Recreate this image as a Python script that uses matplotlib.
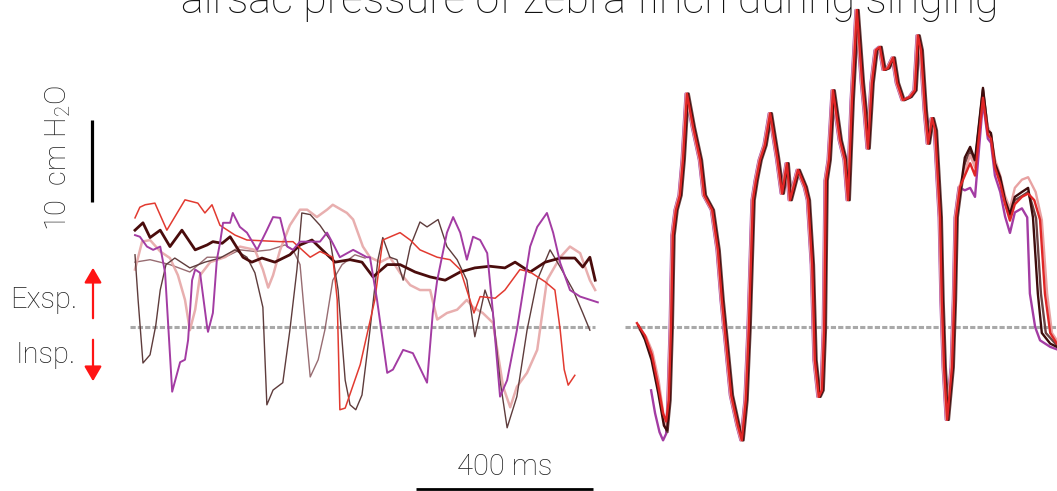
import matplotlib
matplotlib.use('Agg')
import matplotlib.pyplot as plt
from matplotlib.patches import FancyArrowPatch

plt.rcParams['font.family'] = ['Roboto', 'Open Sans', 'DejaVu Sans']
plt.rcParams['mathtext.fontset'] = 'custom'
plt.rcParams['mathtext.rm'] = 'Roboto:weight=light'
plt.rcParams['mathtext.default'] = 'rm'
plt.rcParams['lines.solid_joinstyle'] = 'round'

# ---- left panel: time (ms), pressure (cm H2O) ----
red_t = [0, 11, 23, 45, 72, 113, 142, 158, 174, 192, 226, 253, 328, 357, 396, 418, 447, 457, 463, 475,
         509, 542, 560, 599, 622, 644, 683, 712, 735, 757, 766, 780, 814, 836, 870, 893, 927, 949, 961,
         970, 979, 994]
red_p = [13.3, 14.6, 14.9, 15.1, 11.8, 15.5, 15.1, 13.9, 14.9, 12.4, 11.2, 10.6, 10.4, 10.4, 8.5, 9.2,
         8.5, 3.3, -10.1, -9.9, -4.6, 3.3, 10.6, 11.5, 10.6, 9.4, 8.5, 8.2, 7.0, 3.3, 1.7, 3.7, 3.5, 4.5,
         7.0, 6.7, 5.5, 4.5, -0.4, -5.2, -7.1, -5.9]

purple_t = [0, 11, 27, 41, 57, 68, 84, 102, 113, 120, 129, 136, 147, 163, 165, 176, 185, 192, 199, 215,
            221, 237, 253, 276, 298, 312, 328, 344, 357, 373, 418, 434, 447, 463, 493, 524, 531, 547, 570,
            583, 606, 628, 660, 673, 683, 705, 719, 735, 750, 764, 780, 796, 809, 825, 841, 863, 893, 909,
            931, 945, 961, 983, 1006, 1046]
purple_p = [11.2, 11.0, 9.8, 9.4, 9.8, 6.6, -7.9, -4.3, -4.0, -1.6, 5.7, 7.0, 6.6, 0.0, -0.6, 1.7, 8.2,
            10.2, 12.7, 12.7, 13.9, 12.2, 11.5, 9.4, 11.8, 13.4, 13.3, 9.8, 9.4, 10.4, 10.4, 11.5, 10.2,
            8.5, 9.4, 8.5, 8.5, 3.3, -5.6, -5.2, -2.8, -3.2, -6.8, 1.7, 5.7, 11.5, 13.4, 11.5, 8.2, 11.0,
            10.6, 9.0, 1.7, -8.5, -6.5, -0.4, 9.8, 12.2, 13.9, 11.5, 7.8, 4.5, 3.7, 3.0]

brown_t = [0, 18, 34, 57, 79, 106, 136, 163, 176, 197, 215, 244, 264, 287, 316, 350, 373, 400, 423, 452,
           486, 513, 538, 570, 599, 633, 667, 701, 735, 768, 802, 836, 859, 893, 927, 961, 994, 1012,
           1028, 1040]
brown_p = [11.8, 12.7, 10.9, 11.8, 9.8, 11.8, 9.4, 10.0, 10.4, 10.2, 11.0, 8.5, 7.9, 8.4, 7.9, 8.8, 10.0,
           10.6, 9.4, 7.9, 8.2, 7.9, 6.1, 7.6, 7.6, 6.7, 6.1, 5.7, 6.7, 7.2, 7.4, 7.2, 7.9, 6.7, 7.9, 8.4,
           8.4, 7.3, 8.5, 5.7]

pink_t = [0, 16, 34, 57, 79, 97, 113, 124, 136, 147, 170, 203, 237, 271, 289, 301, 312, 328, 350, 373,
          389, 411, 434, 447, 479, 493, 515, 531, 554, 576, 599, 622, 644, 667, 683, 705, 728, 750, 764,
          786, 809, 832, 848, 863, 886, 909, 931, 961, 983, 1006, 1028, 1040]
pink_p = [7.0, 10.4, 10.6, 9.2, 8.4, 6.3, 3.3, -0.4, 2.1, 6.3, 7.9, 8.5, 9.8, 9.4, 7.0, 4.8, 6.3, 9.4,
          12.4, 14.3, 14.3, 13.4, 14.3, 14.9, 13.9, 13.1, 9.8, 8.5, 7.9, 8.5, 6.6, 5.1, 4.5, 4.5, 0.9, 1.7,
          2.1, 3.3, 2.4, 1.7, 0.5, -7.3, -9.8, -7.3, -5.6, -2.8, 5.7, 8.5, 9.8, 9.0, 5.7, 4.5]

grey_t = [0, 7, 18, 34, 47, 57, 70, 90, 124, 158, 192, 226, 253, 271, 289, 298, 312, 334, 350, 366, 377,
          396, 418, 441, 459, 475, 486, 499, 513, 531, 549, 560, 576, 592, 606, 622, 644, 660, 685, 705,
          728, 750, 768, 791, 809, 825, 841, 863, 886, 909, 938, 961, 990, 1012, 1028]
grey_p = [8.8, 3.3, -4.4, -3.4, 0.2, 4.5, 7.6, 8.4, 7.2, 7.9, 8.4, 9.4, 8.5, 6.6, 2.4, -9.5, -7.7, -6.8,
          -0.4, 7.0, 13.9, 13.7, 12.4, 10.6, 4.5, -6.5, -9.5, -10.1, -8.3, -0.4, 8.2, 10.9, 8.5, 8.2, 5.7,
          9.8, 12.8, 12.2, 13.1, 9.8, 8.2, 5.7, -1.2, 4.5, 1.7, -6.5, -12.3, -8.5, -0.4, 5.7, 9.4, 7.3,
          4.5, 1.7, -0.4]

mauve_t = [0, 34, 79, 124, 163, 203, 237, 271, 305, 339, 357, 373, 384, 396, 414, 429, 447, 468, 497, 520]
mauve_p = [7.9, 8.2, 7.6, 6.7, 8.5, 8.5, 9.4, 9.2, 9.4, 10.0, 9.4, 7.6, 0.9, -6.1, -4.0, -0.4, 5.7, 7.6,
           8.8, 8.4]

# ---- right panel: one song motif shared by the renditions ----
motif_t = [99, 104, 108, 115, 124, 131, 140, 154, 170, 179, 197, 210, 219, 228, 240, 255, 264, 273, 280,
           289, 296, 305, 316, 328, 344, 355, 366, 373, 391, 407, 414, 423, 429, 438, 445, 450, 454, 461,
           470, 486, 497, 504, 513, 524, 536, 542, 549, 558, 567, 576, 585, 594, 606, 615, 628, 644, 655,
           662, 669, 678, 685, 694, 701, 712, 716, 721, 728, 739, 744, 748, 757]
motif_p = [-8.9, 0.0, 11.2, 14.3, 16.1, 20.4, 28.5, 24.4, 20.4, 16.1, 14.3, 9.4, 3.3, -1.6, -8.3, -12.0,
           -13.8, -8.9, 0.0, 15.5, 17.9, 20.4, 22.2, 26.1, 20.7, 16.3, 20.0, 15.5, 19.2, 17.1, 15.5, 7.6,
           -4.0, -8.5, -7.7, -0.4, 17.9, 20.4, 28.9, 22.8, 20.4, 15.5, 27.7, 38.7, 29.8, 26.5, 21.8, 29.8,
           33.8, 34.2, 31.4, 31.6, 32.9, 29.8, 27.7, 28.1, 28.9, 35.6, 33.8, 26.5, 22.4, 25.5, 24.0, 13.4,
           3.3, -4.9, -11.3, -4.9, 3.3, 13.4, 17.1]

# per rendition: lag (ms), start piece, end piece
renditions = {
    'purple': dict(color='#a33ca3', lag=-3,
                   start_t=[59, 68, 78, 86, 93], start_p=[-7.7, -10.5, -12.8, -13.8, -13.0],
                   end_t=[768, 780, 791, 809, 820, 827, 836, 848, 859, 870, 881, 897, 909, 915, 927, 938, 961, 976],
                   end_p=[16.7, 17.0, 15.9, 27.5, 23.0, 22.5, 18.5, 16.5, 13.5, 11.5, 14.0, 14.5, 13.4, 4.1,
                          0.0, -1.6, -2.4, -2.7]),
    'grey': dict(color='#6a4242', lag=4,
                 start_t=[52, 62, 72, 82, 90, 96], start_p=[-2.2, -3.5, -6.0, -9.5, -12.0, -12.8],
                 end_t=[768, 780, 791, 809, 820, 827, 836, 848, 859, 870, 881, 897, 911, 920, 929, 940, 951, 976],
                 end_p=[20.0, 21.5, 20.0, 29.0, 24.0, 23.5, 19.8, 18.0, 15.2, 13.5, 15.5, 16.0, 16.5, 15.0,
                        13.3, 4.1, -0.7, -2.2]),
    'pink': dict(color='#e8a2a2', lag=-2,
                 start_t=[33, 48, 62, 76, 88, 95], start_p=[-0.3, -1.2, -3.0, -6.5, -11.0, -12.2],
                 end_t=[768, 780, 791, 809, 820, 827, 836, 848, 859, 870, 881, 897, 911, 928, 942, 954, 965, 976],
                 end_p=[19.0, 21.0, 19.5, 28.5, 24.5, 23.5, 20.5, 18.5, 16.0, 14.5, 17.0, 18.0, 18.3, 16.5,
                        13.1, 4.1, -0.7, -1.6]),
    'dark': dict(color='#3e0c0c', lag=2,
                 start_t=[30, 45, 60, 75, 88, 95], start_p=[0.2, -1.5, -4.0, -8.0, -12.0, -12.6],
                 end_t=[768, 780, 791, 809, 820, 827, 836, 848, 859, 870, 881, 897, 911, 922, 933, 942, 961, 976],
                 end_p=[20.7, 22.0, 20.4, 29.2, 24.0, 23.7, 20.0, 18.3, 15.5, 13.8, 15.9, 16.5, 17.0, 13.4,
                        4.1, -0.7, -2.0, -2.4]),
    'red': dict(color='#e02626', lag=0,
                start_t=[27, 45, 61, 75, 86, 93], start_p=[0.5, -1.0, -3.4, -7.1, -10.5, -11.5],
                end_t=[768, 780, 791, 809, 820, 827, 836, 848, 859, 870, 881, 897, 911, 925, 938, 949, 961, 976],
                end_p=[18.5, 20.0, 18.5, 28.0, 23.5, 23.0, 19.5, 17.5, 15.0, 13.0, 15.0, 15.9, 16.3, 15.5,
                       13.1, 4.1, -0.7, -2.0]),
}

W, H = 1057, 491


def fx(px):
    return px / W


def fy(py):
    return 1 - py / H


fig = plt.figure(figsize=(W / 100, H / 100), dpi=100)

# left panel (scale: 0.4425 px/ms, 8.2 px/cm)
axL = fig.add_axes([fx(120), fy(445), fx(610) - fx(120), fy(190) - fy(445)])
axL.set_xlim(-33.9, 1073.5)
axL.set_ylim(-14.4, 16.7)
axR = fig.add_axes([fx(620), fy(460), fx(1057) - fx(620), fy(10) - fy(460)])
axR.set_xlim(-11.3, 976.3)
axR.set_ylim(-16.2, 38.7)
for ax in (axL, axR):
    ax.set_facecolor('#fdfdfa')
    ax.axis('off')
    ax.patch.set_visible(True)

dash = (0, (1.7, 0.7))
axL.plot([-11, 1040], [0, 0], color='#a9a9a9', lw=2.2, ls=dash, zorder=1)
axR.plot([0, 976], [0, 0], color='#a9a9a9', lw=2.2, ls=dash, zorder=1)

axL.plot(mauve_t, mauve_p, color='#8c5c62', lw=1.0, alpha=0.9)
axL.plot(pink_t, pink_p, color='#e6a6a6', lw=1.8, alpha=0.9)
axL.plot(grey_t, grey_p, color='#5e3c3c', lw=1.0)
axL.plot(brown_t, brown_p, color='#4a0c0c', lw=2.0)
axL.plot(red_t, red_p, color='#e23a30', lw=1.1)
axL.plot(purple_t, purple_p, color='#a33ca3', lw=1.4)

for name, r in renditions.items():
    t = r['start_t'] + [v + r['lag'] for v in motif_t] + r['end_t']
    p = r['start_p'] + motif_p + r['end_p']
    axR.plot(t, p, color=r['color'], lw=1.7, clip_on=False)

# scale bars, drawn in left panel units
axO = fig.add_axes([0, 0, 1, 1])
axO.set_xlim(-305.1, 2083.7)
axO.set_ylim(-20.0, 39.88)
axO.axis('off')
axO.plot([-97, -97], [15.25, 25.25], color='black', lw=2.3, solid_capstyle='butt')
axO.plot([635, 1035], [-19.8, -19.8], color='black', lw=2.0, solid_capstyle='butt')

txt = dict(color='#222222', fontsize=21, fontweight='light')
fig.text(fx(590), fy(13), 'airsac pressure of zebra finch during singing', ha='center', va='baseline',
         color='#111111', fontsize=31, fontweight='light')
fig.text(fx(58), fy(158), '10  cm H$_2$O', rotation=90, ha='center', va='center', **txt)
fig.text(fx(77), fy(300), 'Exsp.', ha='right', va='center', **txt)
fig.text(fx(76), fy(355), 'Insp.', ha='right', va='center', **txt)
fig.text(fx(505), fy(467), '400 ms', ha='center', va='center', **txt)

style = '-|>,head_length=0.6,head_width=0.35'
fig.add_artist(FancyArrowPatch((fx(93), fy(321)), (fx(93), fy(265)), transform=fig.transFigure,
                               arrowstyle=style, mutation_scale=15, color='#ff1414', lw=1.6))
fig.add_artist(FancyArrowPatch((fx(93), fy(337)), (fx(93), fy(384)), transform=fig.transFigure,
                               arrowstyle=style, mutation_scale=15, color='#ff1414', lw=1.6))

fig.savefig('out.png', dpi=100)
